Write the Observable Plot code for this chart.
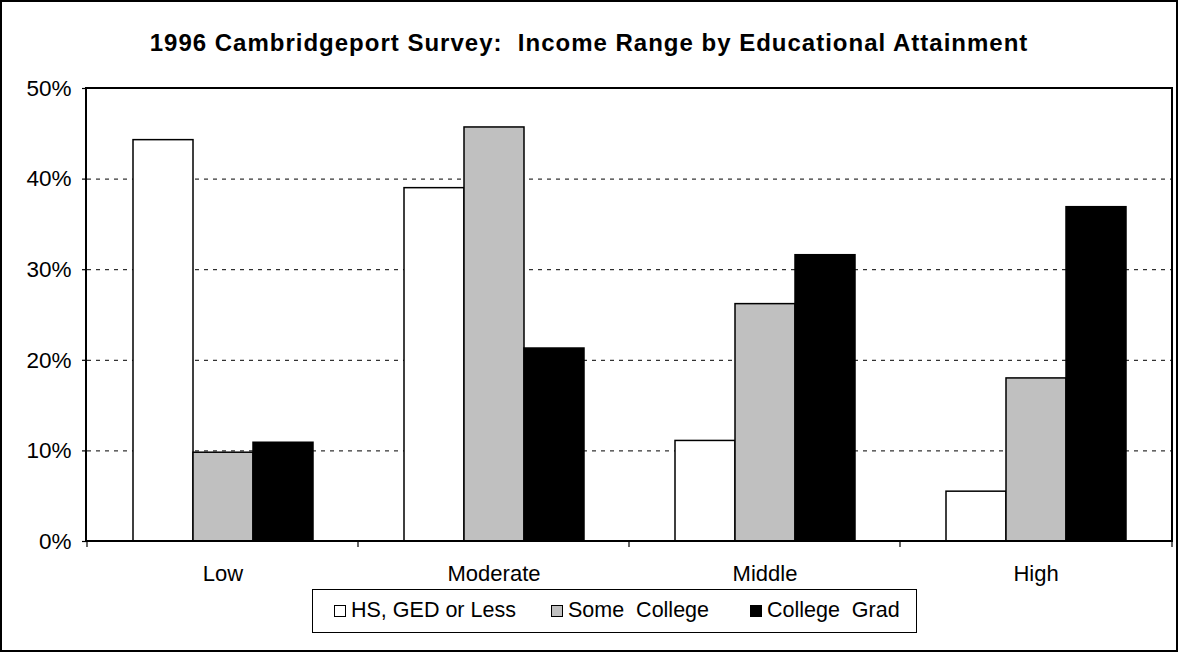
<!DOCTYPE html>
<html>
<head>
<meta charset="utf-8">
<script src="https://cdn.jsdelivr.net/npm/d3@7"></script>
<script src="https://cdn.jsdelivr.net/npm/@observablehq/plot@0.6"></script>
<style>
  body { margin: 0; background: #fff; }
  #wrap { position: relative; width: 1178px; height: 652px; font-family: "Liberation Sans", Arial, sans-serif; color: #000; overflow: hidden; background: #fff; }
  #outer { position: absolute; left: 0; top: 0; width: 1178px; height: 652px; box-sizing: border-box; border: 2px solid #000; pointer-events: none; }
  #title { position: absolute; left: 0; width: 100%; top: 29px; text-align: center; font-weight: bold; font-size: 24px; letter-spacing: 1px; white-space: pre; line-height: 28px; }
  #chart { position: absolute; left: 0; top: 60px; }
  #legend { position: absolute; left: 312px; top: 589px; width: 605px; height: 44px; box-sizing: border-box; border: 1.5px solid #000; }
  .item { position: absolute; top: 0; height: 41px; display: flex; align-items: center; font-size: 21.5px; white-space: pre; }
  .sw { width: 10px; height: 10px; border: 1.5px solid #000; margin-right: 5px; }
</style>
</head>
<body>
<div id="wrap">
  <div id="title"></div>
  <div id="chart"></div>
  <div id="legend"></div>
  <div id="outer"></div>
</div>
<script>
const titleText = "1996 Cambridgeport Survey:  Income Range by Educational Attainment";
const groups = ["Low", "Moderate", "Middle", "High"];
const series = ["HS, GED or Less", "Some  College", "College  Grad"];
const hsValues = [0.443, 0.390, 0.111, 0.055];
const someCollegeValues = [0.098, 0.457, 0.262, 0.180];
const collegeGradValues = [0.109, 0.213, 0.316, 0.369];
const colors = ["#ffffff", "#c0c0c0", "#000000"];
const yTicks = [0, 0.1, 0.2, 0.3, 0.4, 0.5];

const valueSets = [hsValues, someCollegeValues, collegeGradValues];
const rows = [];
groups.forEach((g, i) => {
  valueSets.forEach((arr, j) => rows.push({group: g, series: series[j], value: arr[i]}));
});

document.getElementById("title").textContent = titleText;

const chart = Plot.plot({
  width: 1178,
  height: 530,
  marginTop: 28,
  marginBottom: 49,
  marginLeft: 86,
  marginRight: 6,
  style: {fontFamily: "'Liberation Sans', Arial, sans-serif", fontSize: "22px", background: "transparent", color: "#000", overflow: "visible"},
  fx: {domain: groups, padding: 0, label: null},
  x: {domain: series, paddingInner: 0, paddingOuter: 0.725, axis: null},
  y: {domain: [0, 0.5], label: null},
  color: {domain: series, range: colors},
  marks: [
    Plot.gridY(yTicks.slice(1, 5), {stroke: "#000", strokeOpacity: 1, strokeDasharray: "4,5", strokeWidth: 1}),
    Plot.barY(rows, {fx: "group", x: "series", y: "value", fill: "series", stroke: "#000", strokeWidth: 1.5}),
    Plot.axisY(yTicks, {tickFormat: d3.format(".0%"), tickSize: 5, tickPadding: 11, fontSize: 22.5, label: null, stroke: "#000", strokeWidth: 1.2}),
    Plot.axisFx({anchor: "bottom", tickSize: 0, tickPadding: 24, fontSize: 22, label: null})
  ]
});

const fx = chart.scale("fx");
const y = chart.scale("y");
const svg = d3.select(chart);
const x0 = fx.range[0], x1 = fx.range[1];
const yb = y.range[0], yt = y.range[1];
svg.append("rect")
  .attr("x", x0).attr("y", yt)
  .attr("width", x1 - x0).attr("height", yb - yt)
  .attr("fill", "none").attr("stroke", "#000").attr("stroke-width", 2);
const edges = groups.map(g => fx.apply(g)).concat([x1]);
svg.selectAll("line.gtick").data(edges).join("line")
  .attr("class", "gtick")
  .attr("x1", d => d).attr("x2", d => d)
  .attr("y1", yb).attr("y2", yb + 6)
  .attr("stroke", "#000").attr("stroke-width", 1.2);

document.getElementById("chart").appendChild(chart);

const legendLefts = [21, 238, 437];
const legend = document.getElementById("legend");
series.forEach((s, i) => {
  const item = document.createElement("div");
  item.className = "item";
  item.style.left = legendLefts[i] + "px";
  const sw = document.createElement("div");
  sw.className = "sw";
  sw.style.background = colors[i];
  const label = document.createElement("span");
  label.textContent = s;
  item.appendChild(sw);
  item.appendChild(label);
  legend.appendChild(item);
});
</script>
</body>
</html>
